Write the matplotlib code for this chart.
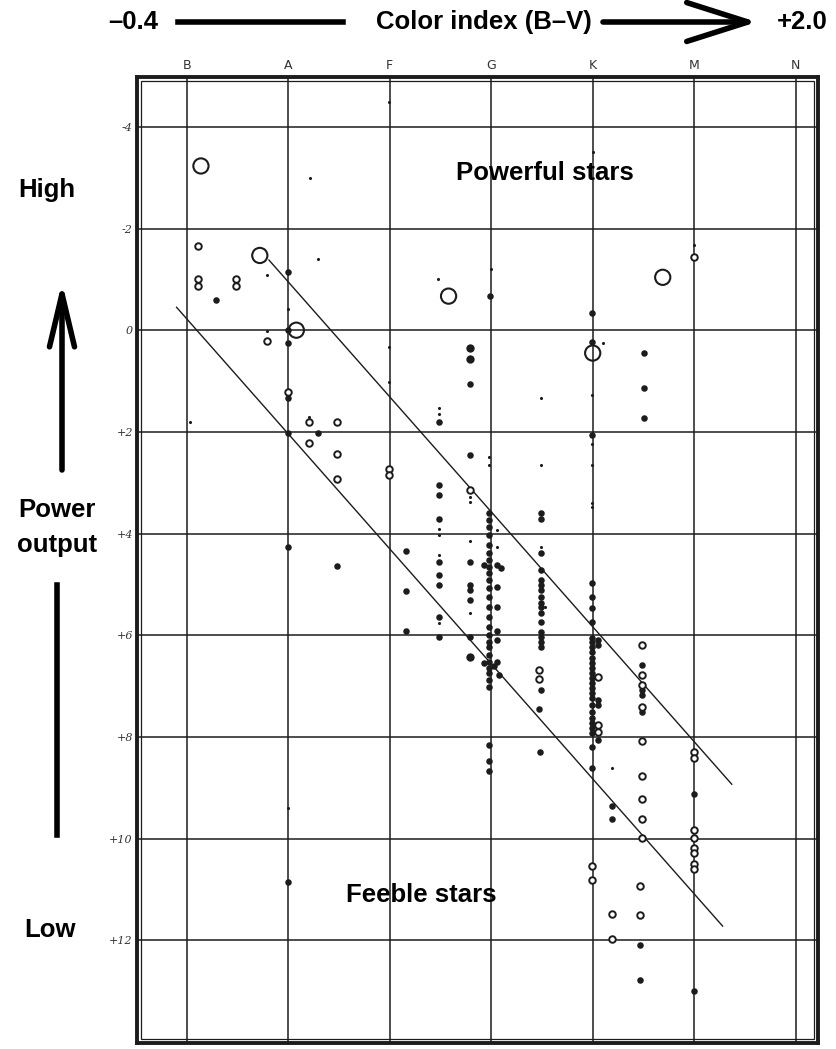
import matplotlib
matplotlib.use("Agg")
import matplotlib.pyplot as plt
from matplotlib.patches import Rectangle

plt.rcParams['font.family'] = ['Liberation Sans', 'DejaVu Sans']

# Spectral classes along the top (position 0 = B, 1 = A, ...)
classes = ['B', 'A', 'F', 'G', 'K', 'M', 'N']
# Absolute magnitude grid and its labels
mag_ticks = [-4, -2, 0, 2, 4, 6, 8, 10, 12]
mag_labels = ['-4', '-2', '0', '+2', '+4', '+6', '+8', '+10', '+12']

# Giant stars drawn as large open circles
giant_x = [0.14, 0.72, 1.08, 2.58, 4.69, 4.00]
giant_mag = [-3.23, -1.47, 0.00, -0.67, -1.04, 0.45]

# Stars drawn as small open rings
ring_x = [0.11, 0.11, 0.11, 0.49, 0.49, 5.00, 0.79, 1.00, 1.20, 1.20, 1.48, 1.48, 1.48,
          1.99, 1.99, 2.79, 3.47, 3.47, 4.49, 4.49, 4.49, 4.49, 4.49, 4.49, 4.49,
          4.49, 4.49, 4.47, 4.47, 4.19, 4.19, 5.00, 5.00, 5.00, 5.00, 5.00, 5.00,
          5.00, 5.00, 3.99, 3.99, 4.05, 4.05, 4.05]
ring_mag = [-1.65, -1.00, -0.87, -1.00, -0.87, -1.44, 0.22, 1.22, 1.81, 2.22, 1.81, 2.44, 2.93,
            2.73, 2.85, 3.15, 6.69, 6.86, 6.19, 6.78, 6.98, 7.41, 8.08, 8.77, 9.22,
            9.62, 9.99, 10.93, 11.50, 11.48, 11.98, 8.30, 8.42, 9.83, 9.99, 10.19, 10.28,
            10.50, 10.60, 10.54, 10.82, 6.82, 7.77, 7.91]

# Ordinary stars drawn as filled dots (scattered stars)
dot_x = [1.00, 1.00, 1.00, 1.00, 0.29, 1.29, 1.00, 1.00, 1.48, 2.16, 2.16, 2.16,
         2.49, 2.49, 2.49, 2.49, 2.49, 2.49, 2.49, 2.49, 2.49,
         2.79, 2.79, 2.79, 2.79, 2.79, 2.79, 2.79,
         2.99, 3.99, 3.99, 4.51, 4.51, 4.51, 3.99, 3.49, 3.49, 3.49, 3.49, 3.47, 3.48,
         3.99, 3.99, 3.99, 4.19, 4.19, 5.00, 5.00, 4.47, 4.47, 1.00, 2.98, 2.98, 2.98,
         3.06, 3.10, 3.06, 3.06, 3.06, 3.06, 3.06, 2.93, 2.93, 3.03, 3.08,
         4.05, 4.05, 4.05, 4.05, 4.05, 4.49, 4.49, 4.49, 4.49]
dot_mag = [-1.14, 0.00, 0.26, 1.34, -0.59, 2.03, 2.03, 4.27, 4.64, 4.35, 5.13, 5.92,
           1.81, 3.05, 3.24, 3.72, 4.56, 4.82, 5.01, 5.64, 6.04,
           1.06, 2.46, 4.56, 5.01, 5.11, 5.31, 6.04,
           -0.67, -0.33, 0.24, 0.45, 1.14, 1.73, 2.06, 3.60, 3.72, 4.39, 4.72, 7.45, 8.30,
           4.98, 5.47, 5.74, 9.36, 9.62, 9.12, 13.00, 12.78, 12.09, 10.86, 8.16, 8.48, 8.67,
           4.62, 4.68, 5.05, 5.45, 5.92, 6.10, 6.53, 4.62, 6.55, 6.60, 6.78,
           6.10, 6.19, 7.28, 7.37, 8.06, 6.59, 7.08, 7.18, 7.51]

# Densely populated class columns (one shared class position each)
g_col_x = 2.98
g_col_mag = [3.60, 3.74, 3.87, 4.03, 4.23, 4.39, 4.52, 4.66, 4.78, 4.92, 5.07, 5.25,
             5.45, 5.64, 5.84, 6.00, 6.14, 6.23, 6.39, 6.53, 6.65, 6.75, 6.88, 7.02]
g5_col_x = 3.49
g5_col_mag = [4.92, 5.01, 5.11, 5.25, 5.37, 5.45, 5.57, 5.74, 5.94, 6.04, 6.14, 6.23, 7.08]
k_col_x = 3.99
k_col_mag = [5.25, 6.06, 6.14, 6.23, 6.33, 6.45, 6.55, 6.65, 6.75, 6.84, 6.94, 7.04,
             7.14, 7.24, 7.37, 7.51, 7.63, 7.73, 7.83, 7.93, 8.20, 8.61]

# Heavier filled dots
bold_x = [2.79, 2.79, 2.79]
bold_mag = [0.35, 0.57, 6.43]

# Faint stars drawn as tiny specks
faint_x = [0.79, 1.29, 1.21, 1.99, 1.99, 1.99, 2.48, 3.00, 4.00, 4.10, 0.79, 1.00,
           1.20, 0.03, 2.49, 2.49, 2.49, 2.49, 2.49, 2.49, 2.79, 2.79, 2.79, 2.79,
           2.98, 2.98, 3.49, 3.49, 3.49, 3.99, 3.99, 3.99, 3.99, 3.99, 5.00, 1.00,
           3.06, 3.06, 3.53, 4.19]
faint_mag = [-1.08, -1.40, -2.99, -4.48, 0.33, 1.02, -1.00, -1.20, -3.50, 0.26, 0.02, -0.41,
             1.71, 1.81, 1.53, 1.65, 3.91, 4.03, 4.42, 5.76, 3.28, 3.38, 4.15, 5.57,
             2.50, 2.65, 1.34, 2.65, 4.27, 1.28, 2.24, 2.65, 3.40, 3.48, -1.67, 9.40,
             3.93, 4.27, 5.45, 8.61]

# Two parallel boundary lines of the main sequence band
upper_x = [0.81, 5.37]
upper_mag = [-1.38, 8.93]
lower_x = [-0.10, 5.28]
lower_mag = [-0.45, 11.72]

ink = '#1c1c1c'
W, H = 837, 1049
fig = plt.figure(figsize=(W / 100, H / 100), dpi=100)
fig.patch.set_facecolor('white')

ax = fig.add_axes([137 / W, 1 - 1043 / H, (818 - 137) / W, (1043 - 77) / H])
ax.set_xlim(-0.49, 6.22)
ax.set_ylim(14.02, -4.98)

# Grid of spectral classes and magnitudes
for i in range(len(classes)):
    ax.axvline(i, color=ink, lw=1.1, zorder=1)
for m in mag_ticks:
    ax.axhline(m, color=ink, lw=1.1, zorder=1)

# Double frame
for s in ax.spines.values():
    s.set_linewidth(2.8)
    s.set_color(ink)
ax.add_patch(Rectangle((4 / 681, 4 / 966), 1 - 8 / 681, 1 - 8 / 966,
                       transform=ax.transAxes, fill=False, lw=0.9,
                       edgecolor=ink, zorder=2))

ax.set_xticks([])
ax.set_yticks(mag_ticks)
ax.set_yticklabels(mag_labels, fontsize=8, style='italic', color='#333333',
                   family='DejaVu Serif')
ax.tick_params(axis='y', length=0, pad=3)

for i, c in enumerate(classes):
    ax.text(i, -5.08, c, ha='center', va='bottom', fontsize=9, color='#333333',
            family='DejaVu Sans', clip_on=False)

# Boundary lines
ax.plot(upper_x, upper_mag, color=ink, lw=1.0, zorder=3)
ax.plot(lower_x, lower_mag, color=ink, lw=1.0, zorder=3)

# Stars
ax.scatter(faint_x, faint_mag, s=5, color=ink, lw=0, zorder=4)
ax.scatter(dot_x, dot_mag, s=22, color=ink, lw=0, zorder=4)
for cx, cm in [(g_col_x, g_col_mag), (g5_col_x, g5_col_mag), (k_col_x, k_col_mag)]:
    ax.scatter([cx] * len(cm), cm, s=22, color=ink, lw=0, zorder=4)
ax.scatter(bold_x, bold_mag, s=36, color=ink, lw=0, zorder=4)
ax.scatter(ring_x, ring_mag, s=22, facecolor='white', edgecolor=ink, lw=1.4, zorder=5)
ax.scatter(giant_x, giant_mag, s=120, facecolor='none', edgecolor=ink, lw=1.5, zorder=5)

# Region labels
big = dict(fontsize=18.5, fontweight='bold', color='black', ha='center', va='center')
ax.text(3.53, -3.09, 'Powerful stars', zorder=6, **big)
ax.text(2.31, 11.11, 'Feeble stars', zorder=6, **big)


def fx(px):
    return px / W


def fy(py):
    return 1 - py / H


# Colour-index header with arrow
fig.text(fx(133), fy(22), '\u20130.4', **big)
fig.text(fx(484), fy(22), 'Color index (B\u2013V)', **big)
fig.text(fx(802), fy(22), '+2.0', **big)
fig.add_artist(plt.Line2D([fx(178), fx(343)], [fy(22), fy(22)], color='black', lw=4.0))
ax.annotate('', xy=(fx(757), fy(22)), xytext=(fx(603), fy(22)),
            xycoords='figure fraction', textcoords='figure fraction',
            arrowprops=dict(arrowstyle='->, head_length=2.2, head_width=0.7',
                            mutation_scale=20, color='black', lw=4.0,
                            shrinkA=0, shrinkB=0))

# Power output side label
fig.text(fx(47), fy(190), 'High', **big)
fig.text(fx(57), fy(510), 'Power', **big)
fig.text(fx(57), fy(545), 'output', **big)
fig.text(fx(50), fy(930), 'Low', **big)
ax.annotate('', xy=(fx(62), fy(282)), xytext=(fx(62), fy(470)),
            xycoords='figure fraction', textcoords='figure fraction',
            arrowprops=dict(arrowstyle='->, head_length=1.9, head_width=0.45',
                            mutation_scale=20, color='black', lw=4.0,
                            shrinkA=0, shrinkB=0))
fig.add_artist(plt.Line2D([fx(57), fx(57)], [fy(585), fy(835)], color='black', lw=4.0))

fig.savefig('out.png', dpi=100, facecolor='white')
